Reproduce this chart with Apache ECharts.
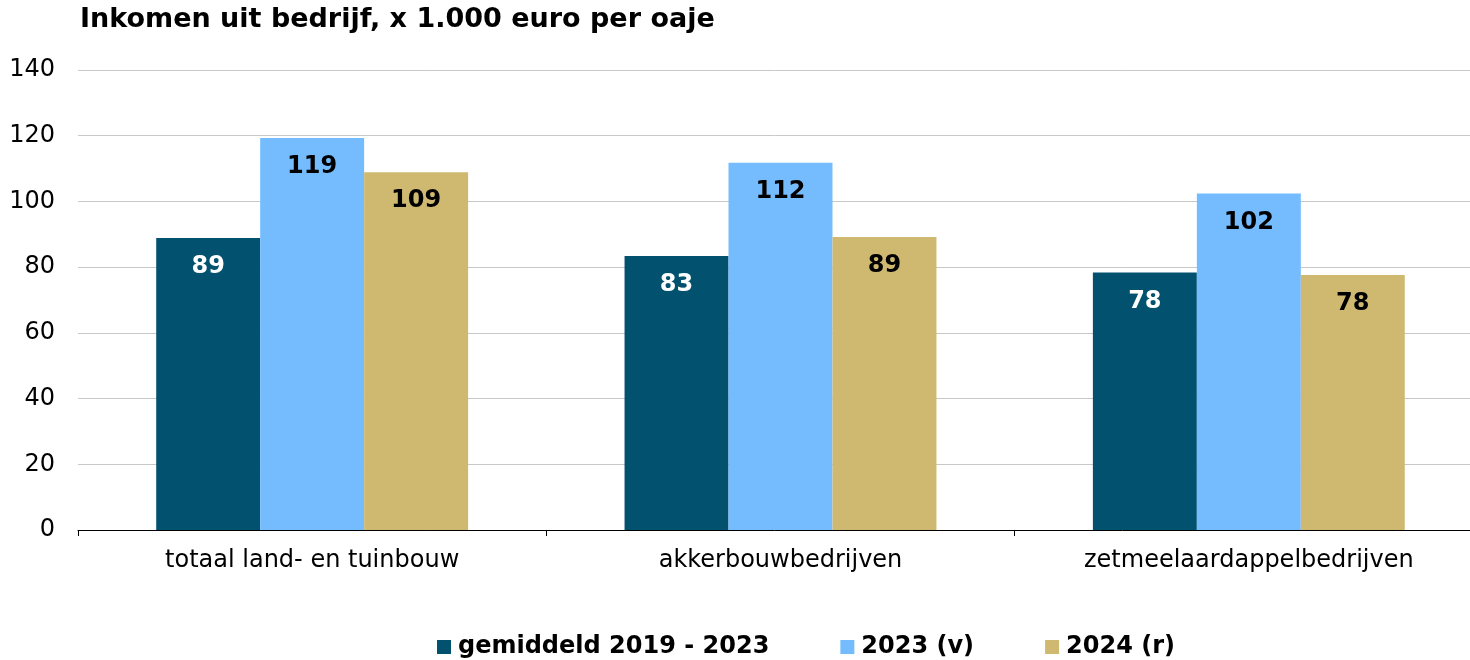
<!DOCTYPE html>
<html>
<head>
<meta charset="utf-8">
<script src="https://cdn.jsdelivr.net/npm/echarts@6/dist/echarts.min.js"></script>
<style>
  html, body { margin: 0; padding: 0; background: #fff; }
  #chart { width: 1470px; height: 660px; }
</style>
</head>
<body>
<div id="chart"></div>
<script>
  const categories = ['totaal land- en tuinbouw', 'akkerbouwbedrijven', 'zetmeelaardappelbedrijven']
  const seriesNames = ['gemiddeld 2019 - 2023', '2023 (v)', '2024 (r)']
  const gemiddeld = [88.9, 83.4, 78.4]
  const jaar2023 = [119.3, 111.8, 102.4]
  const jaar2024 = [108.9, 89.2, 77.6]
  const yTicks = [0, 20, 40, 60, 80, 100, 120, 140]

  const colors = ['#02526F', '#74BCFE', '#CFB971']
  const labelColors = ['#ffffff', '#000000', '#000000']
  const font = '"DejaVu Sans", Verdana, sans-serif'

  const chart = echarts.init(document.getElementById('chart'))

  const makeSeries = (name, data, i) => ({
    name,
    type: 'bar',
    data,
    barGap: 0,
    barCategoryGap: '33.4%',
    itemStyle: { color: colors[i] },
    label: {
      show: true,
      position: 'insideTop',
      distance: 17,
      formatter: (p) => Math.round(p.value),
      color: labelColors[i],
      fontFamily: font,
      fontWeight: 'bold',
      fontSize: 24,
    },
  })

  chart.setOption({
    animation: false,
    title: {
      text: 'Inkomen uit bedrijf, x 1.000 euro per oaje',
      left: 75,
      top: 1,
      textStyle: { fontFamily: font, fontWeight: 'bold', fontSize: 27, color: '#000' },
    },
    grid: { left: 78, right: -13, top: 70, bottom: 130, outerBoundsMode: 'none' },
    legend: {
      bottom: -4,
      left: 432,
      itemWidth: 14,
      itemHeight: 14,
      itemGap: 71,
      icon: 'rect',
      textStyle: { fontFamily: font, fontWeight: 'bold', fontSize: 24, color: '#000', padding: [0, 0, 0, 2] },
      data: seriesNames,
    },
    xAxis: {
      type: 'category',
      data: categories,
      axisLine: { lineStyle: { color: '#000', width: 1 } },
      axisTick: { show: true, length: 6, lineStyle: { color: '#000' } },
      axisLabel: { fontFamily: font, fontSize: 24, color: '#000', margin: 19 },
    },
    yAxis: {
      type: 'value',
      min: yTicks[0],
      max: yTicks[yTicks.length - 1],
      interval: 20,
      axisLine: { show: false },
      axisTick: { show: false },
      axisLabel: { fontFamily: font, fontSize: 24, color: '#000', margin: 23 },
      splitLine: { lineStyle: { color: '#c8c8c8', width: 1 } },
    },
    series: [
      makeSeries(seriesNames[0], gemiddeld, 0),
      makeSeries(seriesNames[1], jaar2023, 1),
      makeSeries(seriesNames[2], jaar2024, 2),
    ],
  })
</script>
</body>
</html>
